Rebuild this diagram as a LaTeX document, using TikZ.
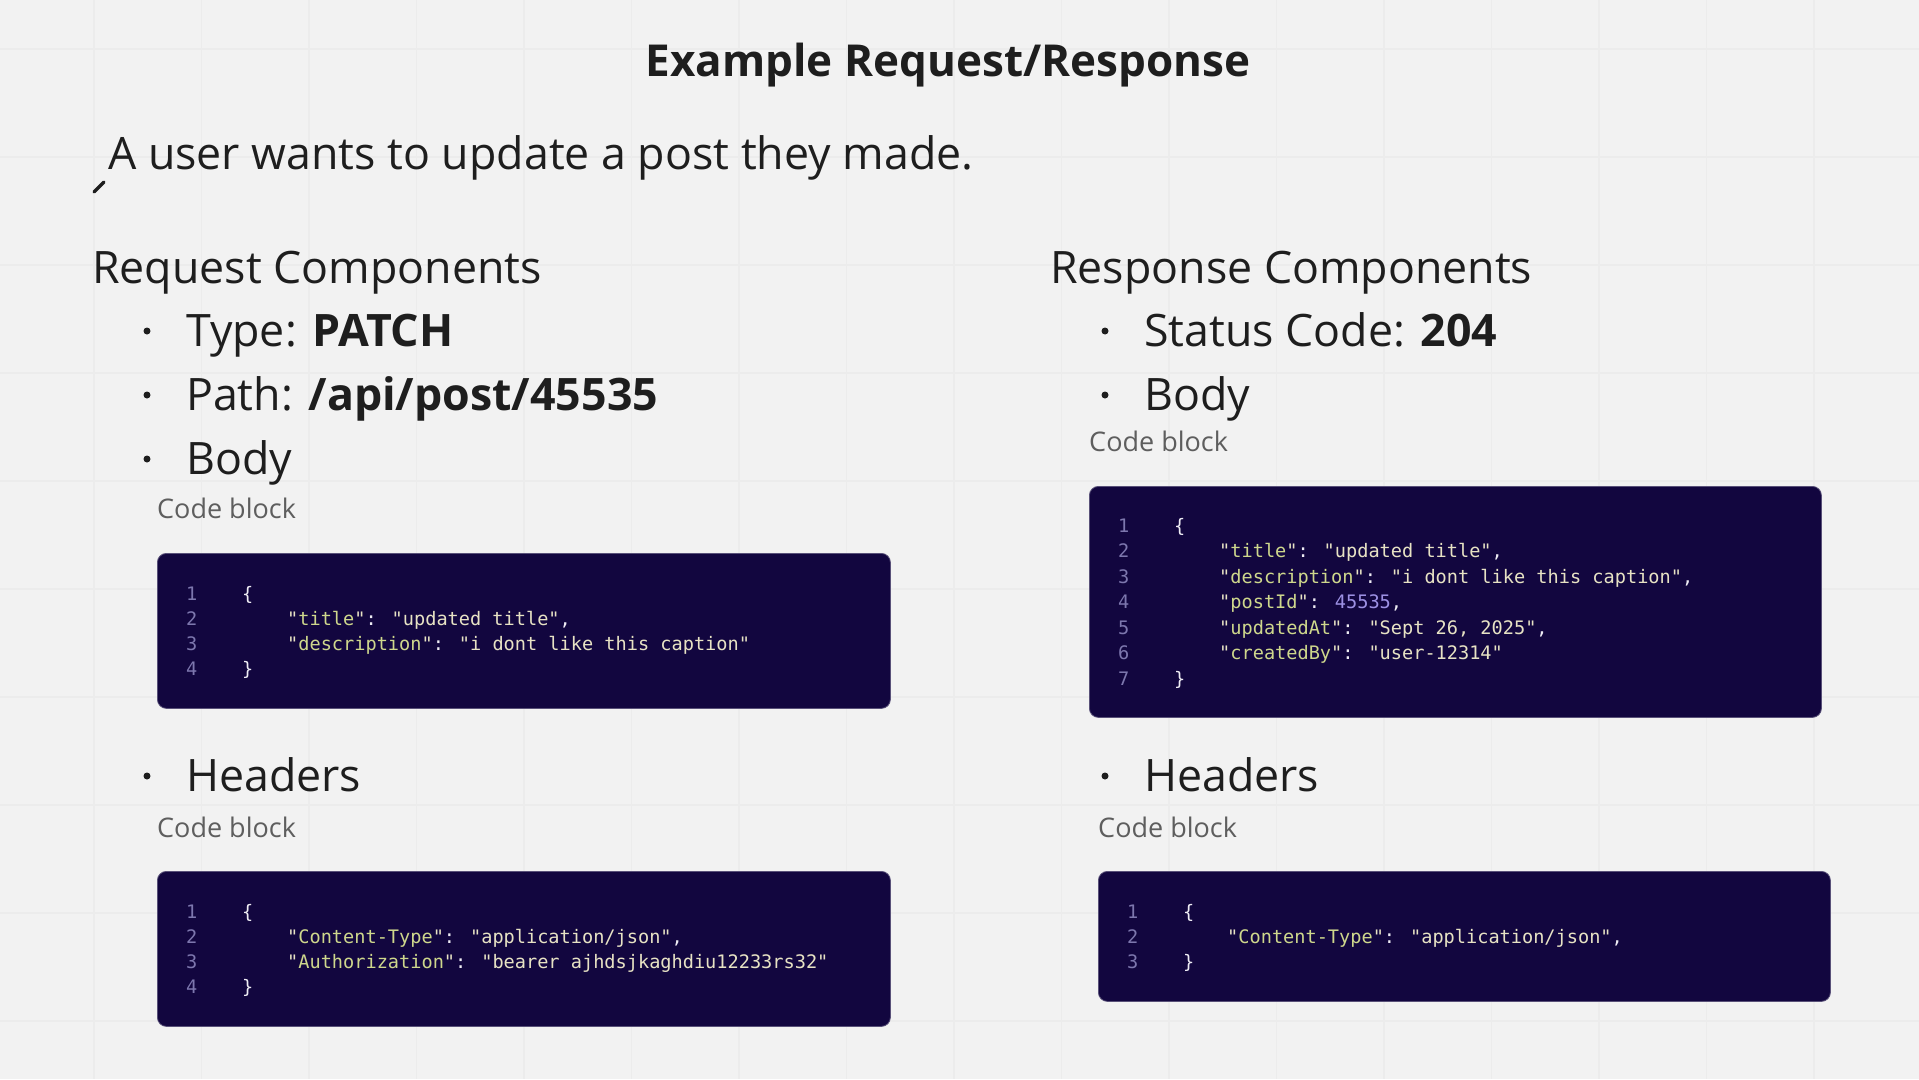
\documentclass[tikz,border=0pt]{standalone}
\usepackage{fontspec}
\setmainfont{Open Sans}
\newfontfamily\codefont{DejaVu Sans Mono}
\definecolor{bgc}{HTML}{F2F2F2}
\definecolor{gridc}{HTML}{ECECEC}
\definecolor{txt}{HTML}{1E1E1E}
\definecolor{labelc}{HTML}{5E5E5E}
\definecolor{boxc}{HTML}{12063F}
\definecolor{cnum}{HTML}{7D77AE}
\definecolor{cpun}{HTML}{EEECF4}
\definecolor{ckey}{HTML}{CED78C}
\definecolor{cstr}{HTML}{E7E2C4}
\definecolor{cval}{HTML}{9D91E4}
\newcommand\codeKey[1]{\textcolor{cstr}{"}\textcolor{ckey}{#1}\textcolor{cstr}{"}\textcolor{cpun}{:} }
\newcommand\codeStr[1]{\textcolor{cstr}{"#1"}}
\newcommand\codeCom{\textcolor{cpun}{,}}
\tikzset{
  txtnode/.style={inner sep=0pt, anchor=base west, text=txt},
  big/.style={txtnode, font=\fontsize{44.7}{50}\selectfont},
  lbl/.style={txtnode, text=labelc, font=\fontsize{27}{32}\selectfont},
  bulletdot/.style={circle, fill=txt, inner sep=0pt, minimum size=7pt},
  codebox/.style={rectangle, rounded corners=9pt, fill=boxc, draw=boxc!70!white, line width=0.8pt, anchor=north west, inner sep=0pt},
  code/.style={inner sep=0pt, anchor=base west, font=\codefont\fontsize{18.6}{24}\selectfont, text=cpun},
  lnum/.style={code, text=cnum},
}
\begin{document}
\begin{tikzpicture}[x=1pt,y=-1pt]
\fill[bgc] (0,0) rectangle (1919,1079);
\useasboundingbox (0,0) rectangle (1919,1079);
\foreach \gx in {94,201.5,...,1919} \draw[gridc, line width=1.2pt] (\gx,0) -- (\gx,1079);
\foreach \gy in {49,157,...,1079} \draw[gridc, line width=1.2pt] (0,\gy) -- (1919,\gy);

% title and intro
\node[txtnode, anchor=base, font=\bfseries\fontsize{44}{50}\selectfont] (title) at (948,76) {Example Request/Response};
\node[big] (intro) at (108,169) {A user wants to update a post they made.};
\draw[txt, line width=3.5pt, line cap=round] (94,192) -- (104,182);

% left column
\node[big] (reqhead) at (92,283) {Request Components};
\node[bulletdot] (b1) at (147,331) {};
\node[big] (type) at (186,346) {Type: \textbf{PATCH}};
\node[bulletdot] (b2) at (147,395) {};
\node[big] (path) at (186,410) {Path: \textbf{/api/post/45535}};
\node[bulletdot] (b3) at (147,459) {};
\node[big] (body) at (186,474) {Body};
\node[lbl] (cb1) at (157,518) {Code block};
\node[codebox, minimum width=733pt, minimum height=155pt] (box1) at (157,553) {};
\node[lnum] (l11) at (186,600) {1};
\node[code] (c11) at (242,600) {\{};
\node[lnum] (l12) at (186,625) {2};
\node[code] (c12) at (287,625) {\codeKey{title}\codeStr{updated title}\codeCom};
\node[lnum] (l13) at (186,650) {3};
\node[code] (c13) at (287,650) {\codeKey{description}\codeStr{i dont like this caption}};
\node[lnum] (l14) at (186,675) {4};
\node[code] (c14) at (242,675) {\}};

\node[bulletdot] (b4) at (147,776) {};
\node[big] (headers) at (186,791) {Headers};
\node[lbl] (cb2) at (157,837) {Code block};
\node[codebox, minimum width=733pt, minimum height=155pt] (box2) at (157,871) {};
\node[lnum] (l21) at (186,918) {1};
\node[code] (c21) at (242,918) {\{};
\node[lnum] (l22) at (186,943) {2};
\node[code] (c22) at (287,943) {\codeKey{Content-Type}\codeStr{application/json}\codeCom};
\node[lnum] (l23) at (186,968) {3};
\node[code] (c23) at (287,968) {\codeKey{Authorization}\codeStr{bearer ajhdsjkaghdiu12233rs32}};
\node[lnum] (l24) at (186,993) {4};
\node[code] (c24) at (242,993) {\}};

% right column
\node[big] (reshead) at (1050,283) {Response Components};
\node[bulletdot] (b5) at (1105,331) {};
\node[big] (status) at (1144,346) {Status Code: \textbf{204}};
\node[bulletdot] (b6) at (1105,395) {};
\node[big] (rbody) at (1144,410) {Body};
\node[lbl] (cb3) at (1089,451) {Code block};
\node[codebox, minimum width=732pt, minimum height=231pt] (box3) at (1089,486) {};
\node[lnum] (l31) at (1118,532) {1};
\node[code] (c31) at (1174,532) {\{};
\node[lnum] (l32) at (1118,557.5) {2};
\node[code] (c32) at (1219,557.5) {\codeKey{title}\codeStr{updated title}\codeCom};
\node[lnum] (l33) at (1118,583) {3};
\node[code] (c33) at (1219,583) {\codeKey{description}\codeStr{i dont like this caption}\codeCom};
\node[lnum] (l34) at (1118,608.5) {4};
\node[code] (c34) at (1219,608.5) {\codeKey{postId}\textcolor{cval}{45535}\codeCom};
\node[lnum] (l35) at (1118,634) {5};
\node[code] (c35) at (1219,634) {\codeKey{updatedAt}\codeStr{Sept 26, 2025}\codeCom};
\node[lnum] (l36) at (1118,659.5) {6};
\node[code] (c36) at (1219,659.5) {\codeKey{createdBy}\codeStr{user-12314}};
\node[lnum] (l37) at (1118,685) {7};
\node[code] (c37) at (1174,685) {\}};

\node[bulletdot] (b7) at (1105,776) {};
\node[big] (rheaders) at (1144,791) {Headers};
\node[lbl] (cb4) at (1098,837) {Code block};
\node[codebox, minimum width=732pt, minimum height=130pt] (box4) at (1098,871) {};
\node[lnum] (l41) at (1127,918) {1};
\node[code] (c41) at (1183,918) {\{};
\node[lnum] (l42) at (1127,943) {2};
\node[code] (c42) at (1227,943) {\codeKey{Content-Type}\codeStr{application/json}\codeCom};
\node[lnum] (l43) at (1127,968) {3};
\node[code] (c43) at (1183,968) {\}};
\end{tikzpicture}
\end{document}
